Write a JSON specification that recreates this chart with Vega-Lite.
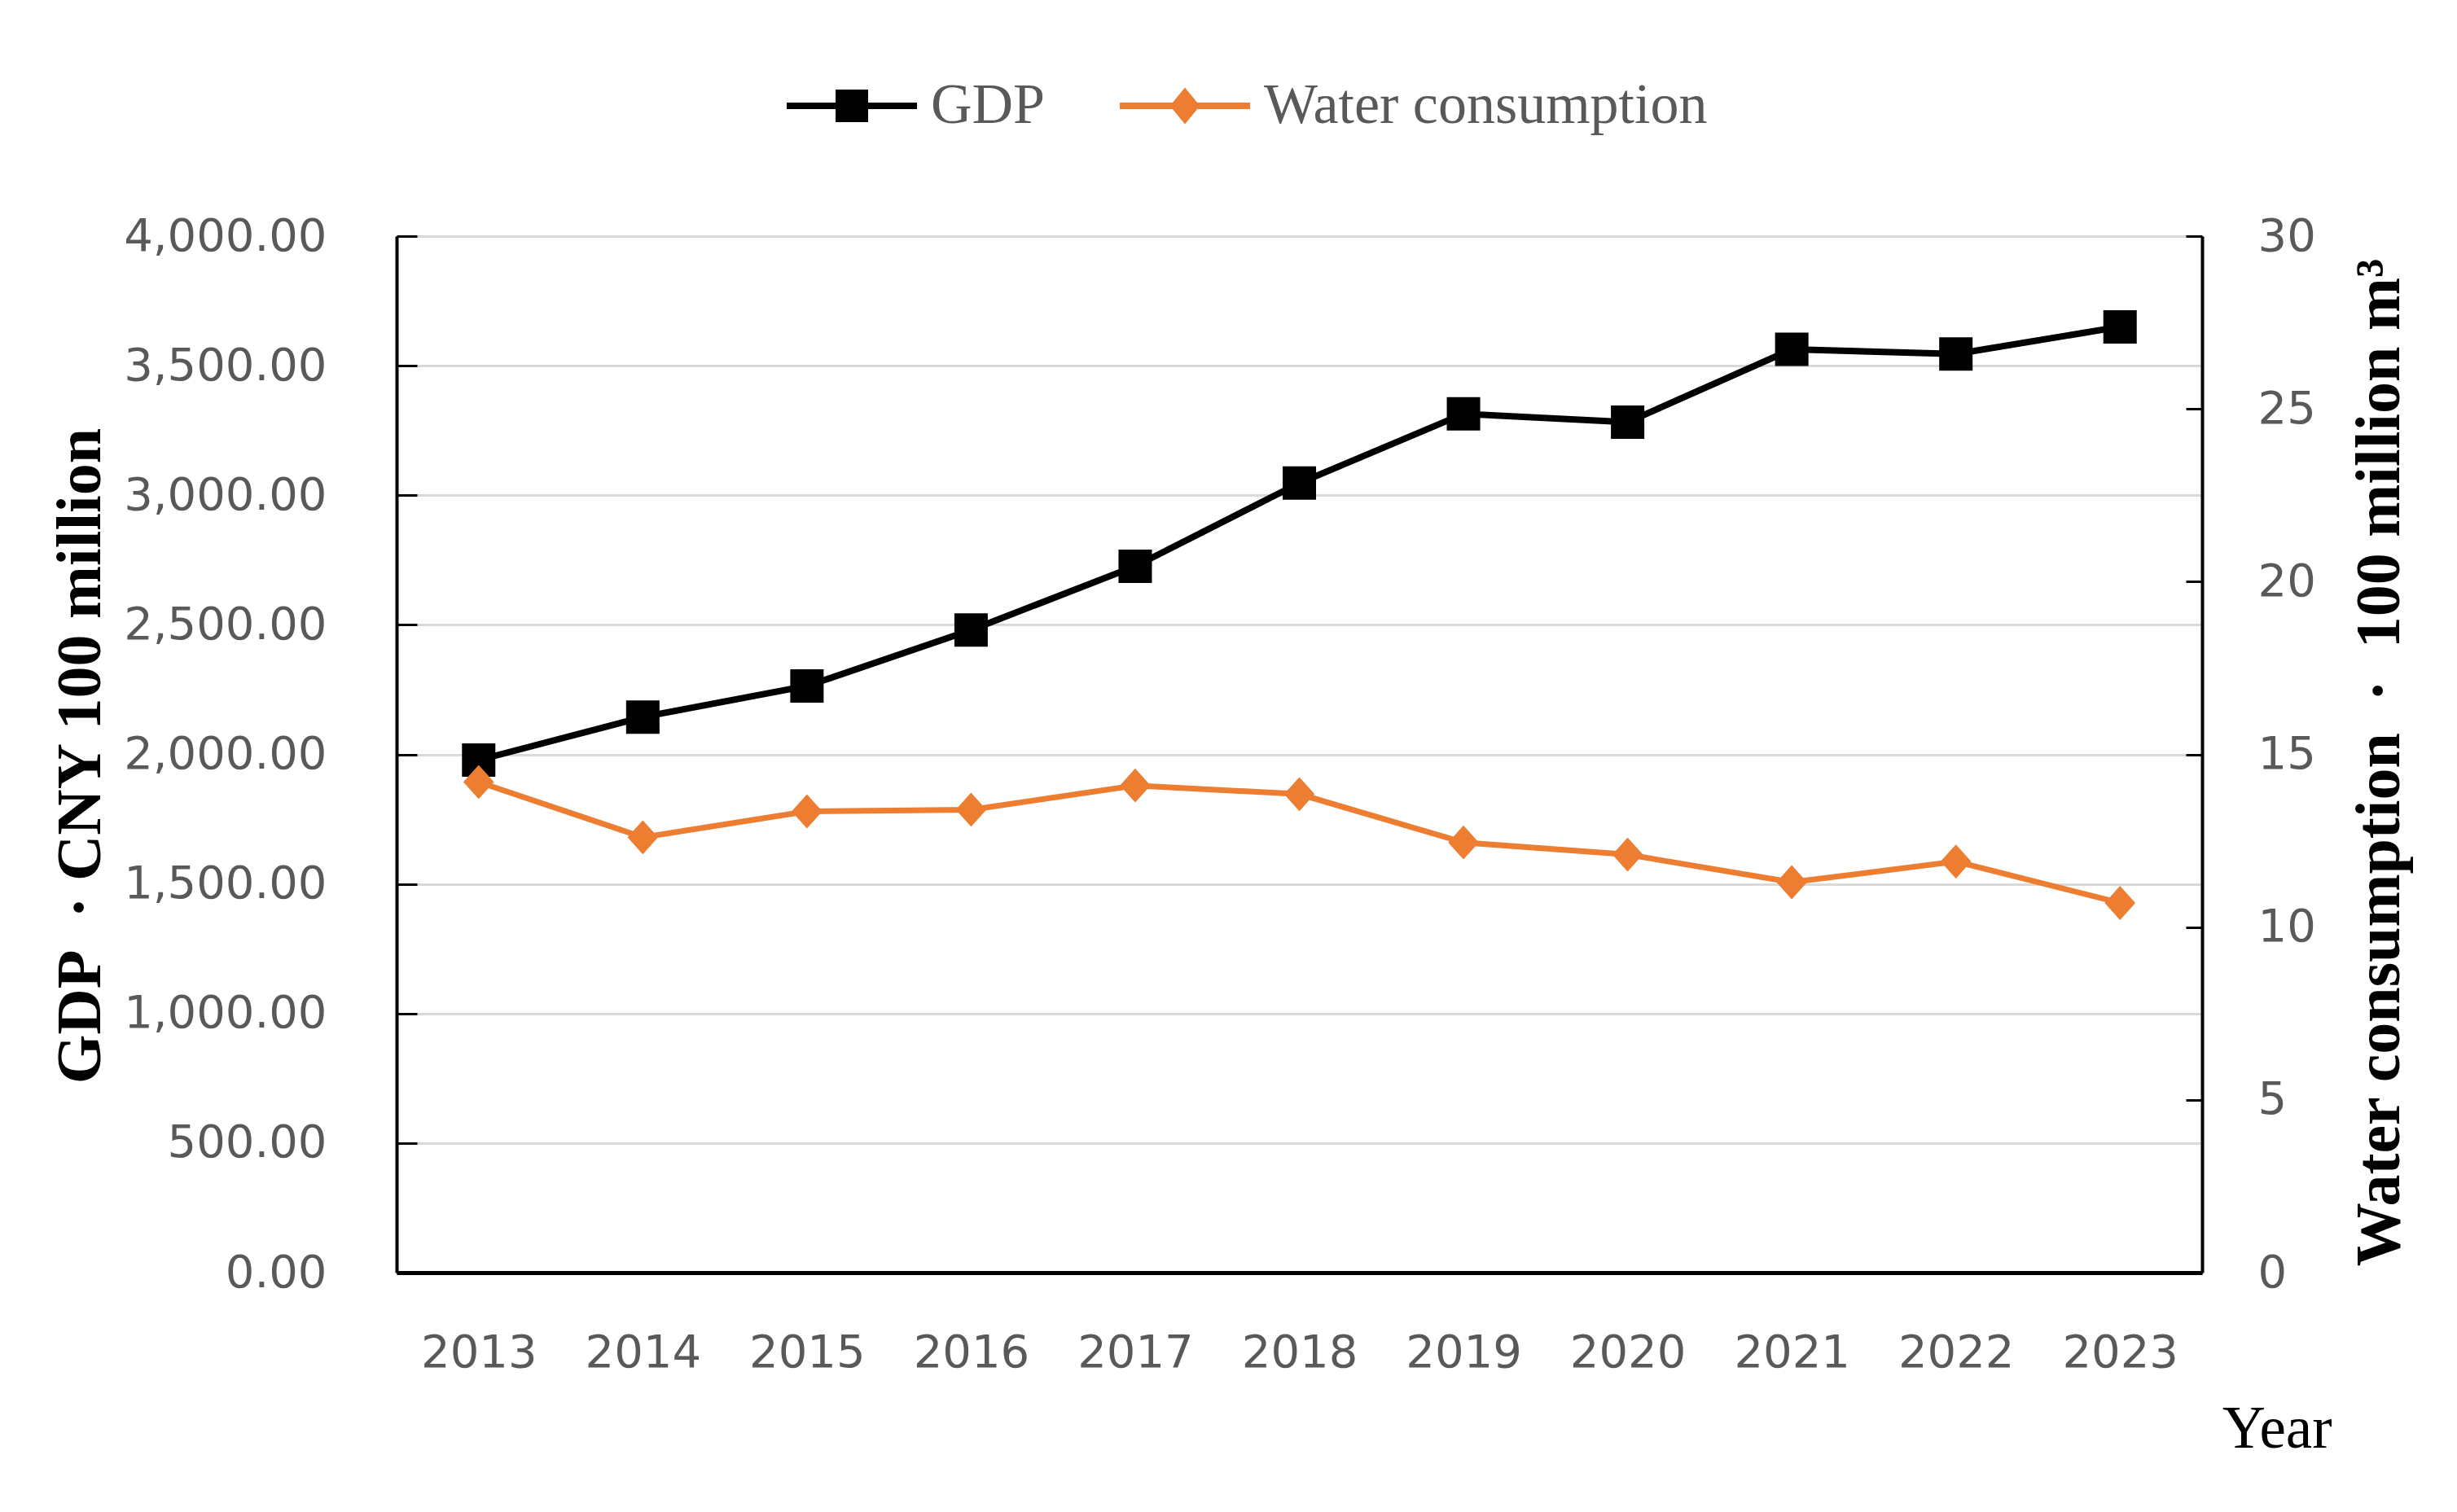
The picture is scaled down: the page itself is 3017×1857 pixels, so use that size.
{
  "$schema": "https://vega.github.io/schema/vega-lite/v6.json",
  "width": 2217,
  "height": 1273,
  "autosize": "none",
  "padding": {"left": 487, "top": 290, "right": 313, "bottom": 294},
  "background": "white",
  "data": {
    "values": [
      {"year": "2013", "series": "GDP", "value": 1978},
      {"year": "2014", "series": "GDP", "value": 2144},
      {"year": "2015", "series": "GDP", "value": 2264},
      {"year": "2016", "series": "GDP", "value": 2480},
      {"year": "2017", "series": "GDP", "value": 2726},
      {"year": "2018", "series": "GDP", "value": 3047},
      {"year": "2019", "series": "GDP", "value": 3314},
      {"year": "2020", "series": "GDP", "value": 3282},
      {"year": "2021", "series": "GDP", "value": 3563},
      {"year": "2022", "series": "GDP", "value": 3545},
      {"year": "2023", "series": "GDP", "value": 3650},
      {"year": "2013", "series": "Water consumption", "value": 14.2},
      {"year": "2014", "series": "Water consumption", "value": 12.6},
      {"year": "2015", "series": "Water consumption", "value": 13.35},
      {"year": "2016", "series": "Water consumption", "value": 13.4},
      {"year": "2017", "series": "Water consumption", "value": 14.1},
      {"year": "2018", "series": "Water consumption", "value": 13.85},
      {"year": "2019", "series": "Water consumption", "value": 12.45},
      {"year": "2020", "series": "Water consumption", "value": 12.1},
      {"year": "2021", "series": "Water consumption", "value": 11.3},
      {"year": "2022", "series": "Water consumption", "value": 11.9},
      {"year": "2023", "series": "Water consumption", "value": 10.7}
    ]
  },
  "encoding": {
    "x": {
      "field": "year",
      "type": "ordinal",
      "scale": {"type": "point", "padding": 0.5},
      "axis": {
        "title": "Year",
        "labelAngle": 0,
        "ticks": false,
        "grid": false,
        "domainColor": "#000000",
        "domainWidth": 5,
        "labelFont": "DejaVu Sans",
        "labelFontSize": 56,
        "labelColor": "#595959",
        "labelPadding": 71,
        "titleFont": "Liberation Serif",
        "titleFontSize": 73,
        "titleFontWeight": "normal",
        "titleColor": "#000000",
        "titleX": 2376,
        "titleY": 214,
        "titleAlign": "right",
        "titleBaseline": "alphabetic"
      }
    },
    "color": {
      "field": "series",
      "type": "nominal",
      "scale": {"domain": ["GDP", "Water consumption"], "range": ["#000000", "#ED7D31"]},
      "legend": {
        "orient": "none",
        "legendX": 479,
        "legendY": -240,
        "direction": "horizontal",
        "title": null,
        "padding": 0,
        "labelFont": "Liberation Serif",
        "labelFontSize": 70,
        "labelColor": "#595959",
        "labelOffset": 17,
        "labelLimit": 0,
        "columnPadding": 91,
        "symbolSize": 25600,
        "encode": {
          "symbols": {
            "update": {
              "shape": {"signal": "datum.value === 'GDP' ? 'M-1,-0.05H1V0.05H-1Z M-0.25,-0.25H0.25V0.25H-0.25Z' : 'M-1,-0.05H1V0.05H-1Z M0,-0.28L0.23,0L0,0.28L-0.23,0Z'"},
              "fill": {"signal": "scale('color', datum.value)"},
              "stroke": {"value": "transparent"},
              "strokeWidth": {"value": 0},
              "size": {"value": 25600}
            }
          }
        }
      }
    }
  },
  "layer": [
    {
      "transform": [{"filter": "datum.series === 'GDP'"}],
      "mark": {"type": "line", "strokeWidth": 8, "point": {"shape": "square", "size": 1681, "filled": true}},
      "encoding": {
        "y": {
          "field": "value",
          "type": "quantitative",
          "scale": {"domain": [0, 4000], "nice": false},
          "axis": {
            "orient": "left",
            "values": [0, 500, 1000, 1500, 2000, 2500, 3000, 3500, 4000],
            "format": ",.2f",
            "grid": true,
            "gridColor": "#d9d9d9",
            "gridWidth": 3,
            "domainColor": "#000000",
            "domainWidth": 4,
            "tickColor": "#000000",
            "tickWidth": 3,
            "tickSize": -25,
            "labelFont": "DejaVu Sans",
            "labelFontSize": 56,
            "labelColor": "#595959",
            "labelPadding": 111,
            "labelLimit": 0,
            "title": "GDP\u00a0 ·\u00a0CNY 100 million",
            "titleFont": "Liberation Serif",
            "titleFontWeight": "bold",
            "titleFontSize": 78,
            "titleColor": "#000000",
            "titleAngle": 270,
            "titleAlign": "center",
            "titleBaseline": "alphabetic",
            "titleX": -365,
            "titleY": 638
          }
        }
      }
    },
    {
      "transform": [{"filter": "datum.series === 'Water consumption'"}],
      "mark": {"type": "line", "strokeWidth": 7, "point": {"shape": "M0,-1L0.9,0L0,1L-0.9,0Z", "size": 1750, "filled": true}},
      "encoding": {
        "y": {
          "field": "value",
          "type": "quantitative",
          "scale": {"domain": [0, 30], "nice": false},
          "axis": {
            "orient": "right",
            "values": [0, 5, 10, 15, 20, 25, 30],
            "grid": false,
            "domainColor": "#000000",
            "domainWidth": 4,
            "tickColor": "#000000",
            "tickWidth": 3,
            "tickSize": -20,
            "labelFont": "DejaVu Sans",
            "labelFontSize": 56,
            "labelColor": "#595959",
            "labelPadding": 88,
            "title": "Water consumption\u00a0 ·\u00a0 100 million m³",
            "titleFont": "Liberation Serif",
            "titleFontWeight": "bold",
            "titleFontSize": 78,
            "titleColor": "#000000",
            "titleAngle": 270,
            "titleAlign": "center",
            "titleBaseline": "alphabetic",
            "titleX": 241,
            "titleY": 646
          }
        }
      }
    }
  ],
  "resolve": {"scale": {"y": "independent"}},
  "config": {"view": {"stroke": null}, "font": "DejaVu Sans"}
}
